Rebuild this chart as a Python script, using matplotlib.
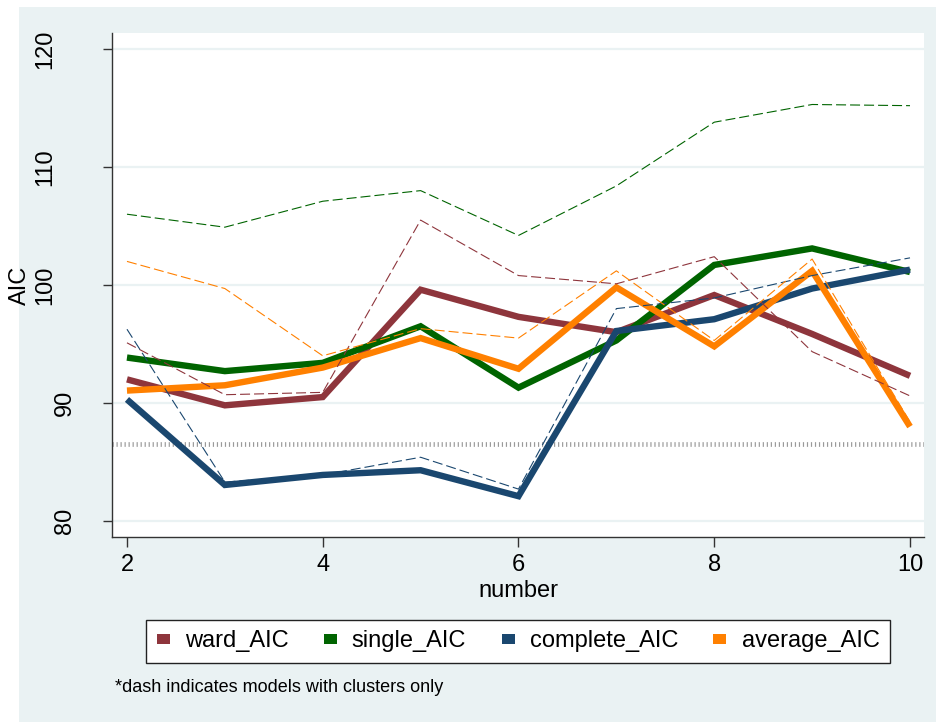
import matplotlib
matplotlib.use("Agg")
import matplotlib.pyplot as plt
from matplotlib.patches import Patch, Rectangle
from matplotlib.transforms import blended_transform_factory

# ============================
# Datos
# ============================

number = [2, 3, 4, 5, 6, 7, 8, 9, 10]

# modelos completos (linea gruesa)
ward_AIC = [92.0, 89.8, 90.5, 99.6, 97.3, 96.0, 99.15, 95.85, 92.3]
single_AIC = [93.85, 92.7, 93.4, 96.5, 91.3, 95.3, 101.7, 103.1, 101.1]
complete_AIC = [90.3, 83.05, 83.9, 84.3, 82.1, 96.1, 97.1, 99.7, 101.3]
average_AIC = [91.05, 91.5, 93.0, 95.5, 92.9, 99.8, 94.8, 101.2, 88.0]

# modelos solo con clusters (linea discontinua)
ward_clus = [95.1, 90.7, 90.9, 105.5, 100.8, 100.1, 102.4, 94.35, 90.6]
single_clus = [106.0, 104.9, 107.1, 108.0, 104.2, 108.4, 113.8, 115.3, 115.2]
complete_clus = [96.25, 83.3, 83.9, 85.4, 82.7, 98.0, 98.9, 100.8, 102.3]
average_clus = [102.0, 99.7, 94.0, 96.3, 95.5, 101.2, 95.3, 102.2, 88.4]

ref_line = 86.55

series_names = ["ward_AIC", "single_AIC", "complete_AIC", "average_AIC"]
colors = ["#8E353C", "#006400", "#1A476F", "#FF8000"]

x_ticks = [2, 4, 6, 8, 10]
y_ticks = [80, 90, 100, 110, 120]

# ============================
# Figura
# ============================

plt.rcParams["font.family"] = ["Liberation Sans", "DejaVu Sans"]

W, H = 936, 722
fig = plt.figure(figsize=(W / 100, H / 100), dpi=100, facecolor="white")
bg = "#EAF2F3"
fig.add_artist(Rectangle((19 / W, 0), 1 - 19 / W, 1 - 7 / H,
                         transform=fig.transFigure, facecolor=bg,
                         edgecolor="none", zorder=-10))

ax = fig.add_axes([112 / W, (H - 537) / H, 812 / W, 504 / H])
ax.set_facecolor("white")

# lineas gruesas
for vals, c in zip([ward_AIC, single_AIC, complete_AIC, average_AIC], colors):
    ax.plot(number, vals, color=c, lw=4.6, solid_capstyle="butt",
            solid_joinstyle="miter", zorder=3)

# lineas discontinuas
for vals, c in zip([ward_clus, single_clus, complete_clus, average_clus], colors):
    ax.plot(number, vals, color=c, lw=0.8, dashes=(9, 3.6), zorder=4)

# linea de referencia
ax.axhline(ref_line, color="#9a9a9a", lw=3.4, dashes=(0.25, 0.6), zorder=2)

ax.set_xlim(1.847, 10.143)
ax.set_ylim(78.64, 121.36)

ax.set_xticks(x_ticks)
ax.set_xticklabels([str(t) for t in x_ticks], fontsize=17)
ax.set_yticks(y_ticks)
ax.set_yticklabels([])
ax.tick_params(axis="x", length=7, width=1, color="#333333", pad=5)
ax.tick_params(axis="y", length=6.5, width=1, color="#333333")

ax.yaxis.grid(True, color=bg, lw=1.6)
ax.set_axisbelow(True)

for s in ["top", "right"]:
    ax.spines[s].set_visible(False)
for s in ["left", "bottom"]:
    ax.spines[s].set_color("#333333")
    ax.spines[s].set_linewidth(1.0)

# etiquetas del eje y (verticales, estilo Stata)
tr = blended_transform_factory(fig.transFigure, ax.transData)
for t in y_ticks:
    xpos = 45 if t >= 100 else 65
    ax.text(xpos / W, t, str(t), transform=tr, rotation=90,
            ha="center", va="center", fontsize=17, clip_on=False)

fig.text(20 / W, 1 - 285 / H, "AIC", rotation=90, ha="center", va="center",
         fontsize=17)
fig.text(518 / W, 1 - 591 / H, "number", ha="center", va="center",
         fontsize=17)

# ============================
# Leyenda y nota
# ============================

handles = [Patch(facecolor=c, edgecolor="none", label=n)
           for n, c in zip(series_names, colors)]
leg = fig.legend(handles=handles, loc="center",
                 bbox_to_anchor=(518 / W, 1 - 641.5 / H), ncol=4,
                 fontsize=17, frameon=True, fancybox=False,
                 edgecolor="#222222", framealpha=1,
                 handlelength=0.55, handleheight=0.3, handletextpad=0.64,
                 columnspacing=1.5, borderpad=0.45, borderaxespad=0)
leg.get_frame().set_linewidth(1.0)

fig.text(115 / W, 1 - 688 / H, "*dash indicates models with clusters only",
         ha="left", va="center", fontsize=13)

fig.savefig("out.png", dpi=100, facecolor=fig.get_facecolor())
